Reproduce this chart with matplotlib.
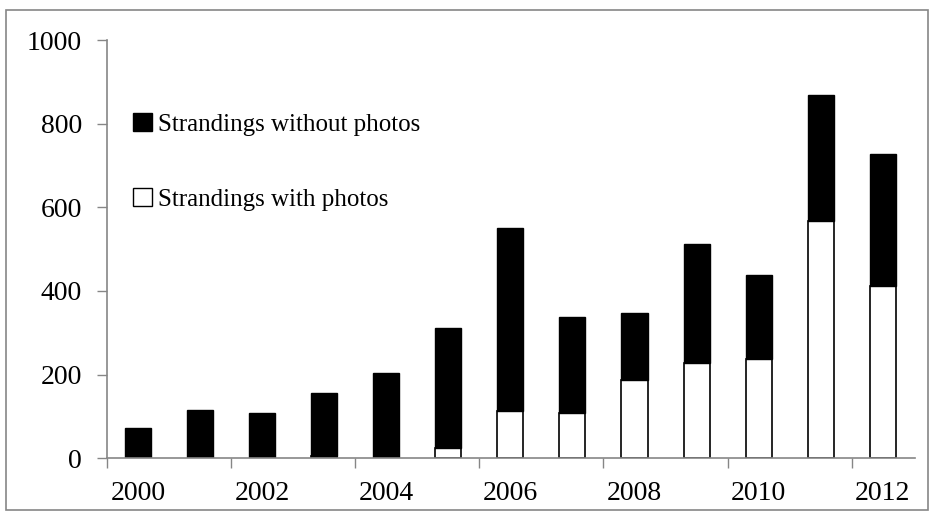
import matplotlib.pyplot as plt
from matplotlib.patches import Patch, Rectangle

# strandings per year
years = list(range(2000, 2013))
with_photos = [0, 0, 0, 6, 0, 25, 114, 108, 186, 228, 237, 567, 413]
total = [72, 115, 109, 155, 203, 311, 550, 338, 348, 513, 439, 868, 728]
without_photos = [t - w for t, w in zip(total, with_photos)]

plt.rcParams['font.family'] = ['Liberation Serif', 'DejaVu Serif']

fig = plt.figure(figsize=(9.34, 5.17), dpi=100)
ax = fig.add_axes([107 / 934, 58.7 / 517, 808 / 934, 418.3 / 517])

x = list(range(len(years)))
w = 0.42
ax.bar(x, with_photos, width=w, color='white', edgecolor='black', linewidth=1.2)
ax.bar(x, without_photos, width=w, bottom=with_photos, color='black',
       edgecolor='black', linewidth=1.0)

ax.set_xlim(-0.5, 12.52)
ax.set_ylim(0, 1000)
ax.set_yticks([0, 200, 400, 600, 800, 1000])

# labels sit on the even years, tick marks sit between categories
ax.set_xticks(x[::2])
ax.set_xticklabels([str(y) for y in years[::2]])
ax.set_xticks([i - 0.5 for i in x[::2]], minor=True)
ax.tick_params(axis='x', which='major', length=0, pad=16, labelsize=20)
ax.tick_params(axis='x', which='minor', length=7, width=1, color='#868686',
               direction='out')
ax.tick_params(axis='y', length=7, width=1, color='#868686', pad=11,
               labelsize=20)

for side in ['top', 'right']:
    ax.spines[side].set_visible(False)
for side in ['left', 'bottom']:
    ax.spines[side].set_color('#868686')
    ax.spines[side].set_linewidth(1.2)

handles = [
    Patch(facecolor='black', edgecolor='black', label='Strandings without photos'),
    Patch(facecolor='white', edgecolor='black', label='Strandings with photos'),
]
ax.legend(handles=handles, loc='upper left', bbox_to_anchor=(0.02, 0.85),
          frameon=False, fontsize=18, handlelength=0.75, handleheight=0.75,
          handletextpad=0.25, labelspacing=2.1, borderaxespad=0)

# grey frame round the whole chart
fig.patches.append(Rectangle((6 / 934, 7 / 517), 922 / 934, 500 / 517,
                             transform=fig.transFigure, fill=False,
                             edgecolor='#868686', linewidth=1.2))

fig.savefig('out.png', dpi=100)
